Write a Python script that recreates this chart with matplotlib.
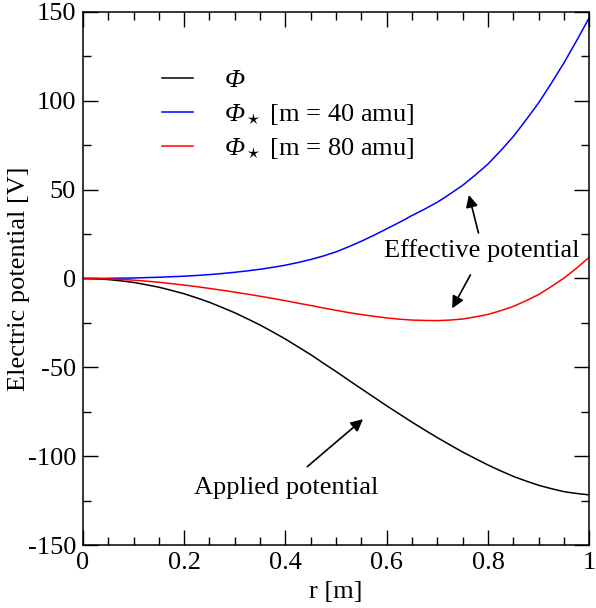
import numpy as np
import matplotlib
matplotlib.use("Agg")
import matplotlib.pyplot as plt
from matplotlib.ticker import MultipleLocator

plt.rcParams['font.family'] = ['Liberation Serif', 'DejaVu Serif']
# math only used for the italic Phi symbols
plt.rcParams['mathtext.fontset'] = 'custom'
plt.rcParams['mathtext.rm'] = 'Liberation Serif:italic'
plt.rcParams['mathtext.it'] = 'Liberation Serif:italic'
plt.rcParams['axes.unicode_minus'] = False

# radius [m], read every 0.025
r = np.linspace(0, 1, 41)
# applied potential [V]
phi = [0, -0.15, -0.6, -1.3, -2.2, -3.5, -4.9, -6.7, -8.6, -10.9, -13.4,
       -16.3, -19.3, -22.7, -26.2, -30.1, -34.1, -38.5, -42.9, -47.7, -52.4,
       -57.3, -62.1, -66.9, -71.7, -76.3, -80.9, -85.3, -89.6, -93.7, -97.7,
       -101.4, -105.0, -108.3, -111.4, -114.0, -116.4, -118.3, -120.0, -121.0, -121.8]
# effective potential, m = 40 amu
phi_40 = [0, 0.02, 0.1, 0.2, 0.3, 0.5, 0.7, 1.0, 1.3, 1.7, 2.2,
          2.8, 3.5, 4.3, 5.2, 6.3, 7.5, 9.0, 10.7, 12.7, 15.0,
          17.9, 21.0, 24.4, 28.0, 31.6, 35.5, 39.1, 43.0, 47.6, 52.5,
          58.3, 64.5, 72.0, 80.0, 89.3, 99.0, 110.0, 121.5, 134.0, 147.0]
# effective potential, m = 80 amu
phi_80 = [0, -0.05, -0.2, -0.5, -0.9, -1.5, -2.1, -2.9, -3.7, -4.6, -5.6,
          -6.6, -7.7, -8.8, -10.0, -11.2, -12.5, -13.9, -15.2, -16.6, -17.9,
          -19.2, -20.3, -21.3, -22.2, -22.9, -23.4, -23.6, -23.7, -23.4, -22.8,
          -21.6, -20.2, -18.1, -15.7, -12.5, -9.0, -4.5, 0.3, 5.9, 12.1]

fs = 19

fig = plt.figure(figsize=(5.96, 6.08), dpi=100)
ax = fig.add_axes([0.139, 0.1036, 0.850, 0.8767])

ax.plot(r, phi, color='black', lw=1.1, label=r'$\Phi$')
ax.plot(r, phi_40, color='blue', lw=1.1, label=r'$\Phi_\star$ [m = 40 amu]')
ax.plot(r, phi_80, color='red', lw=1.1, label=r'$\Phi_\star$ [m = 80 amu]')

ax.set_xlim(0, 1)
ax.set_ylim(-150, 150)
ax.yaxis.set_major_locator(MultipleLocator(50))
ax.yaxis.set_minor_locator(MultipleLocator(25))
ax.set_xticks([0, 0.2, 0.4, 0.6, 0.8, 1.0], ['0', '0.2', '0.4', '0.6', '0.8', '1'])
ax.xaxis.set_minor_locator(MultipleLocator(0.05))
ax.tick_params(which='both', direction='in', top=True, right=True, labelsize=fs, width=1)
ax.tick_params(which='major', length=11, pad=5)
ax.tick_params(which='minor', length=5.5)
for s in ax.spines.values():
    s.set_linewidth(1.1)

ax.set_xlabel('r [m]', fontsize=fs, labelpad=5)
ax.set_ylabel('Electric potential [V]', fontsize=fs, labelpad=-1.5)

ax.legend(loc='upper left', bbox_to_anchor=(0.157, 0.893), frameon=False,
          fontsize=fs, handlelength=1.15, handletextpad=1.2, labelspacing=0.37,
          borderpad=0, borderaxespad=0)

ax.text(0.788, 15.5, 'Effective potential', fontsize=fs, ha='center', va='center')
ax.text(0.401, -118, 'Applied potential', fontsize=fs, ha='center', va='center')

arr = dict(arrowstyle='-|>', color='black', lw=1.2, mutation_scale=18, shrinkA=0, shrinkB=0)
ax.annotate('', xy=(0.762, 47.0), xytext=(0.781, 25.6), arrowprops=arr)
ax.annotate('', xy=(0.729, -16.8), xytext=(0.765, 2.0), arrowprops=arr)
ax.annotate('', xy=(0.553, -79.2), xytext=(0.443, -105.9), arrowprops=arr)

plt.savefig('out.png', dpi=100)
